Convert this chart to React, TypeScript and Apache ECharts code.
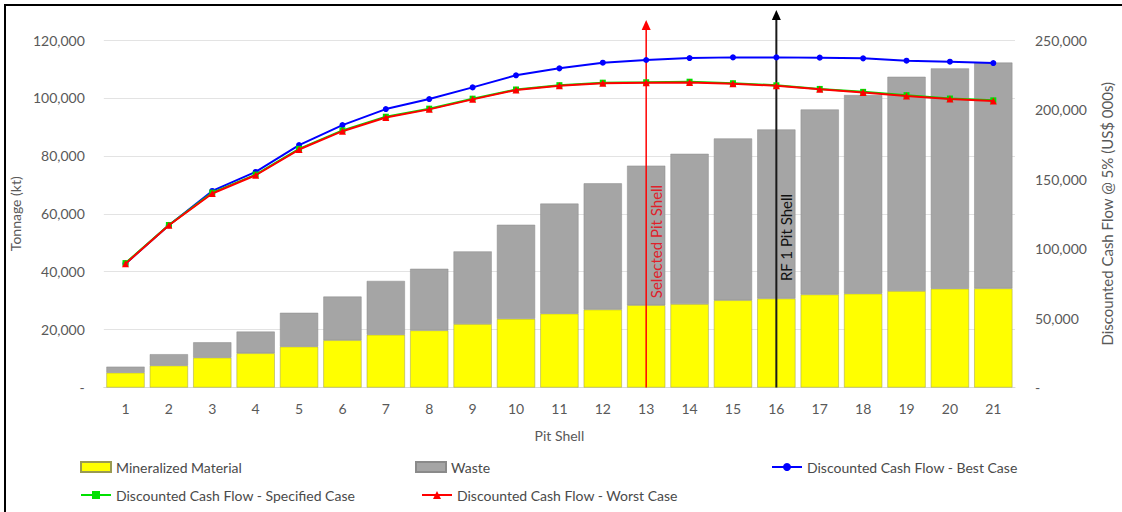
import React, { useEffect, useRef } from "react";
import * as echarts from "echarts";

const pitShells = ["1","2","3","4","5","6","7","8","9","10","11","12","13","14","15","16","17","18","19","20","21"];
const mineralized = [5100, 7550, 10300, 11800, 14100, 16300, 18200, 19700, 21900, 23700, 25500, 26900, 28400, 28800, 30100, 30700, 32100, 32400, 33300, 34100, 34200];
const waste = [2100, 3950, 5300, 7500, 11700, 15100, 18600, 21300, 25100, 32500, 38000, 43600, 48200, 51900, 55900, 58400, 63900, 68600, 74000, 76100, 78000];
const dcfBest = [89100, 116700, 141400, 155100, 174400, 188800, 200300, 207500, 215900, 224600, 229600, 233700, 235600, 237000, 237500, 237500, 237300, 236800, 235100, 234400, 233400];
const dcfSpecified = [89500, 116900, 140200, 153200, 171700, 185000, 194800, 200600, 207800, 214400, 217500, 219300, 219600, 220000, 218900, 217400, 214800, 212700, 210300, 207900, 206600];
const dcfWorst = [89100, 116700, 139600, 152700, 171200, 184400, 194300, 200100, 207300, 214000, 217100, 218800, 219300, 219500, 218500, 217100, 214500, 212300, 209700, 207500, 206100];
const selectedShell = "13";
const rfShell = "16";

const FONT = "Lato";
const GREY = "#595959";

const fmt = (v: number) => (v === 0 ? "-" : v.toLocaleString("en-US"));

export default function App() {
  const ref = useRef<HTMLDivElement>(null);
  useEffect(() => {
    if (!ref.current) return;
    const chart = echarts.init(ref.current, null, { renderer: "svg" });
    const legendText = { fontFamily: FONT, fontSize: 14, color: "#4A4A4A" };
    const option: any = {
      animation: false,
      textStyle: { fontFamily: FONT },
      grid: { left: 96, right: 102, top: 40, bottom: 124.5 },
      legend: [
        { left: 75, top: 455, itemWidth: 30, itemHeight: 10, icon: "rect", textStyle: legendText, data: ["Mineralized Material"] },
        { left: 410, top: 455, itemWidth: 30, itemHeight: 10, icon: "rect", textStyle: legendText, data: ["Waste"] },
        { left: 766, top: 455, itemWidth: 30, itemHeight: 10, textStyle: legendText, data: ["Discounted Cash Flow - Best Case"] },
        { left: 75, top: 483, itemWidth: 30, itemHeight: 10, textStyle: legendText, data: ["Discounted Cash Flow - Specified Case"] },
        { left: 416, top: 483, itemWidth: 30, itemHeight: 10, textStyle: legendText, data: ["Discounted Cash Flow - Worst Case"] },
      ],
      xAxis: {
        type: "category",
        data: pitShells,
        name: "Pit Shell",
        nameLocation: "middle",
        nameGap: 41,
        nameTextStyle: { fontFamily: FONT, fontSize: 14, color: GREY },
        axisLine: { lineStyle: { color: "#D9D9D9" } },
        axisTick: { show: false },
        axisLabel: { color: GREY, fontSize: 14, fontFamily: FONT, margin: 14 },
      },
      yAxis: [
        {
          type: "value",
          min: 0,
          max: 120000,
          interval: 20000,
          name: "Tonnage (kt)",
          nameLocation: "middle",
          nameGap: 72,
          nameTextStyle: { fontFamily: FONT, fontSize: 14, color: GREY },
          axisLabel: { color: GREY, fontSize: 14, fontFamily: FONT, margin: 19, formatter: fmt },
          splitLine: { lineStyle: { color: "#E3E3E3" } },
          axisLine: { show: false },
          axisTick: { show: false },
        },
        {
          type: "value",
          min: 0,
          max: 250000,
          interval: 50000,
          name: "Discounted Cash Flow @ 5% (US$ 000s)",
          nameLocation: "middle",
          nameGap: 84,
          nameTextStyle: { fontFamily: FONT, fontSize: 15, color: GREY },
          axisLabel: { color: GREY, fontSize: 14, fontFamily: FONT, margin: 20, formatter: fmt },
          splitLine: { show: false },
          axisLine: { show: false },
          axisTick: { show: false },
        },
      ],
      series: [
        {
          name: "Mineralized Material",
          type: "bar",
          stack: "t",
          barCategoryGap: "12%",
          itemStyle: { color: "#FFFF00", borderColor: "#9A9A50", borderWidth: 0.5 },
          data: mineralized,
          z: 2,
        },
        {
          name: "Waste",
          type: "bar",
          stack: "t",
          barCategoryGap: "12%",
          itemStyle: { color: "#A5A5A5", borderColor: "#8A8A8A", borderWidth: 0.5 },
          data: waste,
          z: 2,
        },
        {
          name: "Discounted Cash Flow - Best Case",
          type: "line",
          yAxisIndex: 1,
          data: dcfBest,
          symbol: "circle",
          symbolSize: 6,
          lineStyle: { color: "#0000FF", width: 2 },
          itemStyle: { color: "#0000FF" },
          z: 5,
        },
        {
          name: "Discounted Cash Flow - Specified Case",
          type: "line",
          yAxisIndex: 1,
          data: dcfSpecified,
          symbol: "rect",
          symbolSize: 6,
          lineStyle: { color: "#00E000", width: 2 },
          itemStyle: { color: "#00E000" },
          z: 5,
        },
        {
          name: "Discounted Cash Flow - Worst Case",
          type: "line",
          yAxisIndex: 1,
          data: dcfWorst,
          symbol: "triangle",
          symbolSize: 7,
          lineStyle: { color: "#FF0000", width: 2 },
          itemStyle: { color: "#FF0000" },
          z: 6,
        },
      ],
    };
    chart.setOption(option);

    const xr = chart.convertToPixel({ xAxisIndex: 0 }, selectedShell) as number;
    const xb = chart.convertToPixel({ xAxisIndex: 0 }, rfShell) as number;
    const y0 = chart.convertToPixel({ yAxisIndex: 0 }, 0) as number;
    const yTop = chart.convertToPixel({ yAxisIndex: 0 }, 120000) as number;
    const redTip = yTop - 20;
    const blackTip = yTop - 30;
    const textY = y0 - 146;

    chart.setOption({
      graphic: [
        {
          type: "polyline",
          z: 10,
          shape: { points: [[5, 512], [5, 5], [1122, 5]] },
          style: { stroke: "#000", lineWidth: 2, fill: "none" },
        },
        {
          type: "line",
          z: 3,
          shape: { x1: xr, y1: y0, x2: xr, y2: redTip + 8 },
          style: { stroke: "#FF0000", lineWidth: 1.5 },
        },
        {
          type: "polygon",
          z: 3,
          shape: { points: [[xr, redTip], [xr - 4.5, redTip + 10], [xr + 4.5, redTip + 10]] },
          style: { fill: "#FF0000" },
        },
        {
          type: "line",
          z: 3,
          shape: { x1: xb, y1: y0, x2: xb, y2: blackTip + 8 },
          style: { stroke: "#1A1A1A", lineWidth: 2 },
        },
        {
          type: "polygon",
          z: 3,
          shape: { points: [[xb, blackTip], [xb - 4.5, blackTip + 10], [xb + 4.5, blackTip + 10]] },
          style: { fill: "#000" },
        },
        {
          type: "text",
          z: 3,
          x: xr + 10,
          y: textY,
          rotation: Math.PI / 2,
          style: { text: "Selected Pit Shell", fill: "#E0202A", fontFamily: FONT, fontSize: 15, textAlign: "center", textVerticalAlign: "middle" },
        },
        {
          type: "text",
          z: 3,
          x: xb + 10,
          y: textY - 4,
          rotation: Math.PI / 2,
          style: { text: "RF 1 Pit Shell", fill: "#111", fontFamily: FONT, fontSize: 15, textAlign: "center", textVerticalAlign: "middle" },
        },
      ],
    });

    return () => chart.dispose();
  }, []);
  return <div ref={ref} style={{ position: "fixed", left: 0, top: 0, width: 1122, height: 512, background: "#fff" }} />;
}
